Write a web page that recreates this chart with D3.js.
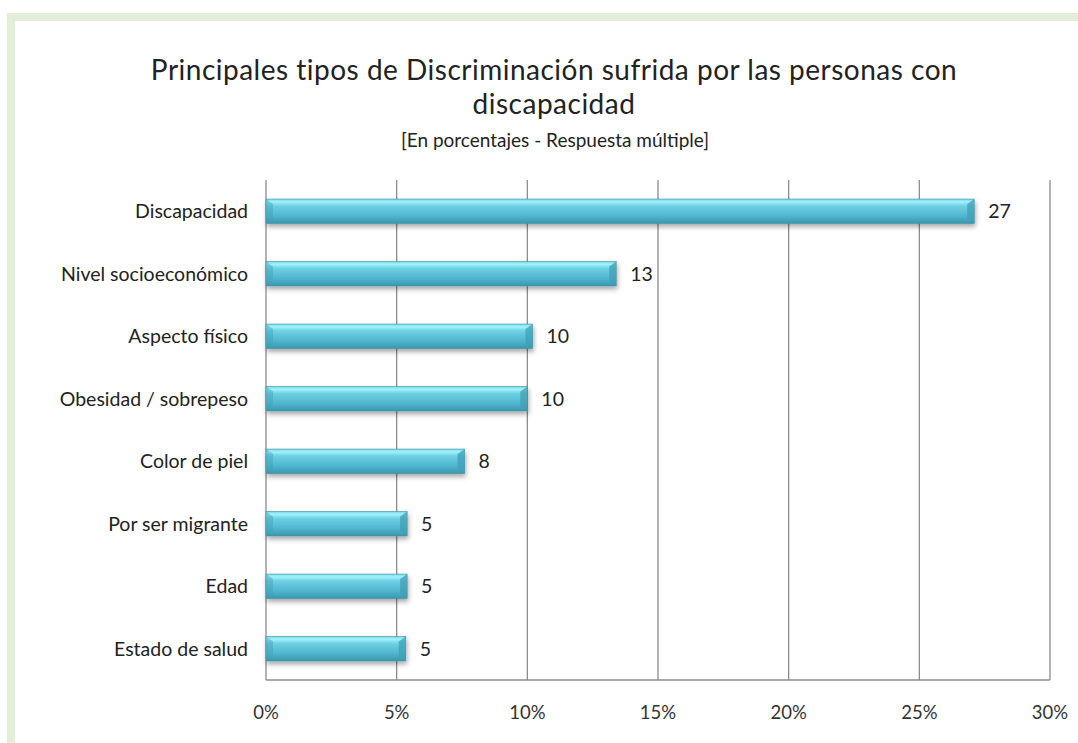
<!DOCTYPE html>
<html>
<head>
<meta charset="utf-8">
<script src="https://cdn.jsdelivr.net/npm/d3@7"></script>
<style>
  body { margin: 0; background: #fff; }
  svg { display: block; font-family: Lato, "Open Sans", sans-serif; }
</style>
</head>
<body>
<div id="chart"></div>
<script>
// --- data ---
const categories = [
    "Discapacidad", "Nivel socioeconómico", "Aspecto físico", "Obesidad / sobrepeso",
    "Color de piel", "Por ser migrante", "Edad", "Estado de salud"
];
const values = [27.1, 13.4, 10.2, 10.0, 7.6, 5.4, 5.4, 5.35];
const xTicks = [0, 5, 10, 15, 20, 25, 30];

const w = 1078, h = 743;
const plotLeft = 266, plotRight = 1050, plotTop = 180, plotBottom = 680;

const svg = d3.select("#chart").append("svg")
    .attr("width", w)
    .attr("height", h);

const defs = svg.append("defs");

// cylinder-ish gradient
const grad = defs.append("linearGradient")
    .attr("id", "barGrad")
    .attr("x1", 0).attr("y1", 0).attr("x2", 0).attr("y2", 1);
grad.append("stop").attr("offset", "0%").attr("stop-color", "#7fd9ea");
grad.append("stop").attr("offset", "12%").attr("stop-color", "#9ff2fc");
grad.append("stop").attr("offset", "28%").attr("stop-color", "#6fd0e3");
grad.append("stop").attr("offset", "70%").attr("stop-color", "#4fb5cd");
grad.append("stop").attr("offset", "100%").attr("stop-color", "#3a97ad");

const shadow = defs.append("filter").attr("id", "shadow")
    .attr("x", "-5%").attr("y", "-30%").attr("width", "110%").attr("height", "180%");
shadow.append("feDropShadow")
    .attr("dx", 1).attr("dy", 3).attr("stdDeviation", 2.5)
    .attr("flood-color", "#000").attr("flood-opacity", 0.35);

// green frame (left and top)
svg.append("rect").attr("x", 7).attr("y", 13).attr("width", w - 7).attr("height", 8).attr("fill", "#e2eed8");
svg.append("rect").attr("x", 7).attr("y", 13).attr("width", 8).attr("height", h - 13).attr("fill", "#e2eed8");

// titles
svg.append("text").attr("x", 554).attr("y", 80).attr("text-anchor", "middle")
    .attr("font-size", "28px").attr("letter-spacing", "0.5px").attr("fill", "#222")
    .text("Principales tipos de Discriminación sufrida por las personas con");
svg.append("text").attr("x", 554).attr("y", 114).attr("text-anchor", "middle")
    .attr("font-size", "28px").attr("letter-spacing", "0.5px").attr("fill", "#222")
    .text("discapacidad");
svg.append("text").attr("x", 555).attr("y", 147).attr("text-anchor", "middle")
    .attr("font-size", "19px").attr("fill", "#222")
    .text("[En porcentajes - Respuesta múltiple]");

// scales
const xScale = d3.scaleLinear().domain([0, 30]).range([plotLeft, plotRight]);
const yScale = d3.scaleBand().domain(categories).range([plotTop, plotBottom]).paddingInner(0.61).paddingOuter(0.305);

// gridlines
svg.append("g").selectAll("line")
    .data(xTicks)
    .enter()
    .append("line")
    .attr("x1", d => xScale(d)).attr("x2", d => xScale(d))
    .attr("y1", plotTop).attr("y2", plotBottom)
    .attr("stroke", "#8c8c8c").attr("stroke-width", 1.3);

// bottom line
svg.append("line")
    .attr("x1", plotLeft).attr("x2", plotRight).attr("y1", plotBottom).attr("y2", plotBottom)
    .attr("stroke", "#8c8c8c").attr("stroke-width", 1.3);

// x tick labels
svg.append("g").selectAll("text")
    .data(xTicks)
    .enter()
    .append("text")
    .attr("x", d => xScale(d))
    .attr("y", 719)
    .attr("text-anchor", "middle")
    .attr("font-size", "18.5px")
    .attr("fill", "#333")
    .text(d => d + "%");

// category labels
svg.append("g").selectAll("text")
    .data(categories)
    .enter()
    .append("text")
    .attr("x", 248)
    .attr("y", d => yScale(d) + yScale.bandwidth() / 2)
    .attr("dy", "0.35em")
    .attr("text-anchor", "end")
    .attr("font-size", "19.5px")
    .attr("fill", "#222")
    .text(d => d);

// bars
const bars = svg.append("g").selectAll("g")
    .data(categories.map((c, i) => ({ c: c, v: values[i] })))
    .enter()
    .append("g");

bars.append("rect")
    .attr("x", xScale(0))
    .attr("y", d => yScale(d.c))
    .attr("width", d => xScale(d.v) - xScale(0))
    .attr("height", yScale.bandwidth())
    .attr("fill", "url(#barGrad)")
    .attr("stroke", "#3a8fa3")
    .attr("stroke-width", 0.6)
    .attr("filter", "url(#shadow)");

// bevel at the end of each bar
bars.append("path")
    .attr("d", d => {
        const x = xScale(d.v), y = yScale(d.c), b = yScale.bandwidth();
        return "M" + x + "," + y + " L" + (x - 7) + "," + (y + 5) + " L" + (x - 7) + "," + (y + b - 5) +
            " L" + x + "," + (y + b) + " Z";
    })
    .attr("fill", "#3f9fb6")
    .attr("opacity", 0.75);

bars.append("path")
    .attr("d", d => {
        const x = xScale(0), y = yScale(d.c), b = yScale.bandwidth();
        return "M" + x + "," + y + " L" + (x + 7) + "," + (y + 5) + " L" + (x + 7) + "," + (y + b - 5) +
            " L" + x + "," + (y + b) + " Z";
    })
    .attr("fill", "#3f9fb6")
    .attr("opacity", 0.45);

// value labels
bars.append("text")
    .attr("x", d => xScale(d.v) + 14)
    .attr("y", d => yScale(d.c) + yScale.bandwidth() / 2)
    .attr("dy", "0.35em")
    .attr("font-size", "19.5px")
    .attr("fill", "#222")
    .text(d => d3.format(".0f")(d.v));
</script>
</body>
</html>
